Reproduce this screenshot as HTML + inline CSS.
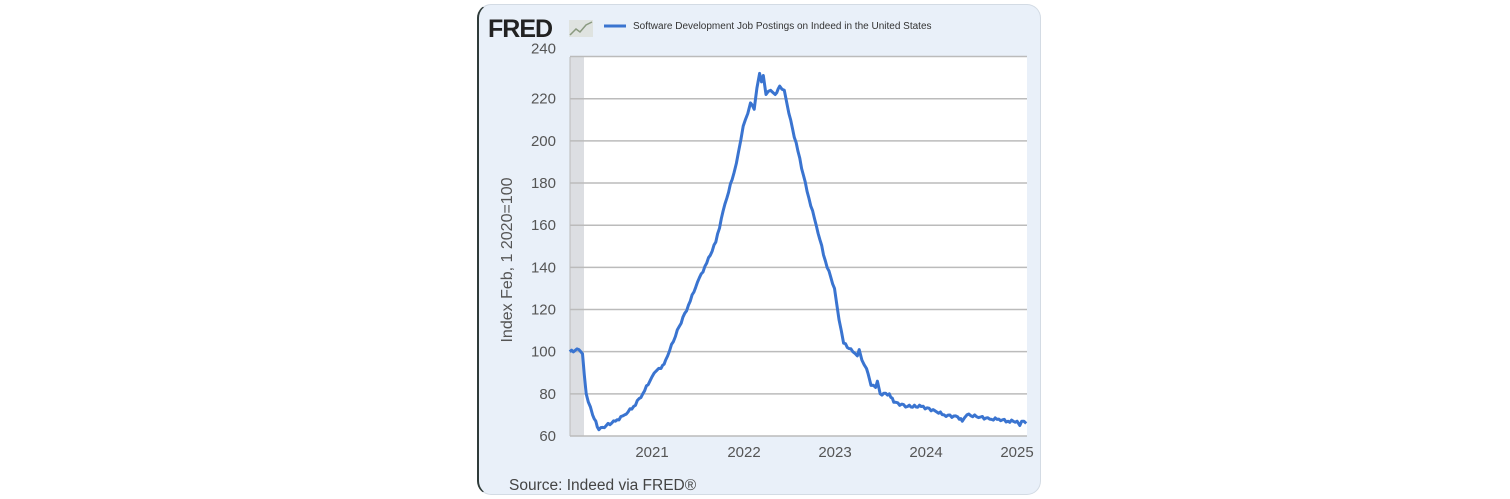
<!DOCTYPE html>
<html><head><meta charset="utf-8"><style>
body{margin:0;background:#fff;width:1510px;height:499px;overflow:hidden;font-family:"Liberation Sans",sans-serif}
.card{position:absolute;left:477px;top:4px;width:564px;height:491px;background:#e9f0f9;border:1px solid #d3dbe4;border-left:2px solid #2f3b39;border-radius:14px;box-sizing:border-box}
</style></head><body>
<div class="card"></div>
<svg width="1510" height="499" style="position:absolute;left:0;top:0" font-family="Liberation Sans, sans-serif">
<text x="488" y="37" font-size="25" font-weight="bold" fill="#222" letter-spacing="-1">FRED</text>
<rect x="569" y="20" width="24" height="17" fill="#dfe3e0"/>
<polyline points="570,35 576,29 580,32 586,25 592,22" fill="none" stroke="#8a9a80" stroke-width="1.5"/>
<line x1="604" y1="26" x2="626" y2="26" stroke="#3a74d0" stroke-width="3"/>
<text x="633" y="29" font-size="10" fill="#333">Software Development Job Postings on Indeed in the United States</text>
<rect x="570" y="57" width="457" height="379" fill="#fff"/>
<rect x="570" y="57" width="14" height="379" fill="#dcdee2"/>
<g stroke="#bbb" stroke-width="1.5" id="grid"></g>
<line x1="570" y1="57" x2="570" y2="436" stroke="#bbb"/>
<g font-size="15" fill="#555" text-anchor="end" id="yl"></g>
<g font-size="15" fill="#555" text-anchor="middle">
<text x="652" y="457">2021</text><text x="744" y="457">2022</text><text x="835" y="457">2023</text><text x="926" y="457">2024</text><text x="1017" y="457">2025</text></g>
<text transform="translate(512,260) rotate(-90)" font-size="16" fill="#555" text-anchor="middle">Index Feb, 1 2020=100</text>
<text x="509" y="490" font-size="15.5" fill="#444">Source: Indeed via FRED®</text>
<polyline id="ln" fill="none" stroke="#3a74d0" stroke-width="3" stroke-linejoin="round"/>
</svg>
<script>
var Y=function(v){return 436-(v-60)*2.108},X=function(t){return 560.6+(t-2020)*91.3};
var g=document.getElementById('grid'),yl=document.getElementById('yl'),ns='http://www.w3.org/2000/svg';
for(var v=60;v<=240;v+=20){var l=document.createElementNS(ns,'line');l.setAttribute('x1',570);l.setAttribute('x2',1027);l.setAttribute('y1',Y(v));l.setAttribute('y2',Y(v));g.appendChild(l);
var t=document.createElementNS(ns,'text');t.setAttribute('x',556);t.setAttribute('y',Y(v)+(v==240?-3:5));t.textContent=v;yl.appendChild(t);}
var d=[[2020.1,100],[2020.2,101],[2020.24,99],[2020.28,80],[2020.35,70],[2020.42,63],[2020.5,65],[2020.6,67],[2020.7,70],[2020.8,74],[2020.9,80],[2021,88],[2021.05,91],[2021.1,92],[2021.15,96],[2021.3,112],[2021.4,122],[2021.5,133],[2021.6,142],[2021.7,152],[2021.8,170],[2021.9,185],[2021.95,195],[2022,207],[2022.05,213],[2022.08,218],[2022.12,215],[2022.15,225],[2022.18,232],[2022.2,228],[2022.22,231],[2022.25,222],[2022.3,224],[2022.35,222],[2022.4,226],[2022.45,224],[2022.5,213],[2022.6,195],[2022.7,176],[2022.8,160],[2022.9,143],[2023,130],[2023.05,115],[2023.1,104],[2023.2,100],[2023.25,98],[2023.27,101],[2023.3,96],[2023.35,92],[2023.4,84],[2023.45,83],[2023.47,86],[2023.5,80],[2023.6,80],[2023.65,76],[2023.8,74],[2023.95,74],[2024.1,72],[2024.2,70],[2024.35,69],[2024.4,67],[2024.45,70],[2024.6,69],[2024.7,68],[2024.8,68],[2024.9,67],[2025,67],[2025.03,65],[2025.05,67],[2025.1,66]];
var pts=[];for(var i=0;i<d.length-1;i++){var a=d[i],b=d[i+1],n=Math.max(1,Math.round((b[0]-a[0])/0.02));for(var k=0;k<n;k++){var f=k/n,tt=a[0]+(b[0]-a[0])*f,vv=a[1]+(b[1]-a[1])*f;if(k>0)vv+=Math.sin(i*7.3+k*2.1)*0.6;pts.push(X(tt).toFixed(1)+','+Y(vv).toFixed(1));}}
var e=d[d.length-1];pts.push(X(e[0]).toFixed(1)+','+Y(e[1]).toFixed(1));
document.getElementById('ln').setAttribute('points',pts.join(' '));
</script>
</body></html>
